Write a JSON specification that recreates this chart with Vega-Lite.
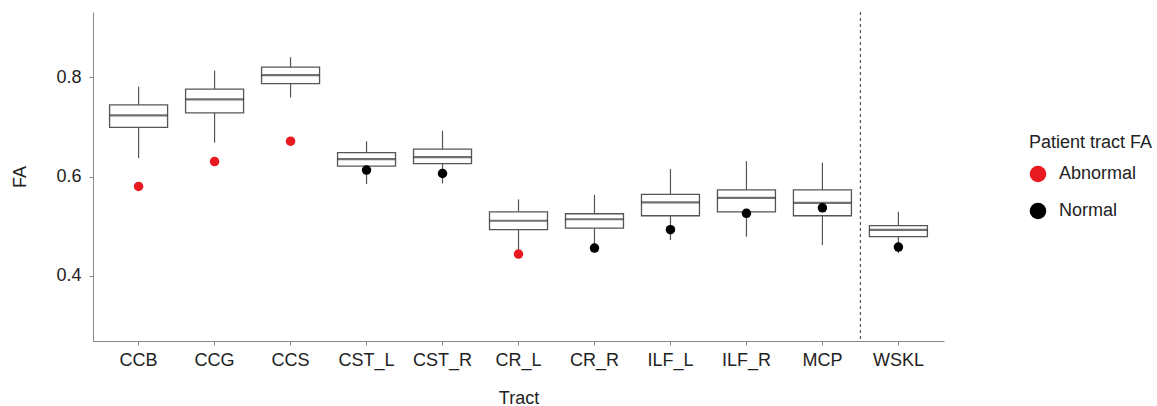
{
  "$schema": "https://vega.github.io/schema/vega-lite/v6.json",
  "width": 851,
  "height": 329,
  "autosize": {"type": "none"},
  "padding": {"left": 93, "top": 12, "right": 213, "bottom": 65},
  "background": "white",
  "config": {
    "view": {"stroke": null},
    "font": "Liberation Sans",
    "axis": {"grid": false, "domainColor": "#888", "tickColor": "#888", "tickSize": 4, "labelColor": "#222", "titleColor": "#222", "labelFontSize": 18, "titleFontSize": 18, "titleFontWeight": "normal", "labelFont": "Liberation Sans", "titleFont": "Liberation Sans"},
    "legend": {"labelFont": "Liberation Sans", "titleFont": "Liberation Sans"}
  },
  "data": {
    "values": [
      {"tract": "CCB", "lower": 0.637, "q1": 0.699, "median": 0.723, "q3": 0.744, "upper": 0.781, "patient": 0.580, "status": "Abnormal"},
      {"tract": "CCG", "lower": 0.668, "q1": 0.728, "median": 0.755, "q3": 0.776, "upper": 0.813, "patient": 0.630, "status": "Abnormal"},
      {"tract": "CCS", "lower": 0.759, "q1": 0.787, "median": 0.804, "q3": 0.820, "upper": 0.840, "patient": 0.671, "status": "Abnormal"},
      {"tract": "CST_L", "lower": 0.585, "q1": 0.621, "median": 0.635, "q3": 0.648, "upper": 0.671, "patient": 0.613, "status": "Normal"},
      {"tract": "CST_R", "lower": 0.586, "q1": 0.626, "median": 0.639, "q3": 0.655, "upper": 0.692, "patient": 0.606, "status": "Normal"},
      {"tract": "CR_L", "lower": 0.452, "q1": 0.493, "median": 0.511, "q3": 0.529, "upper": 0.554, "patient": 0.444, "status": "Abnormal"},
      {"tract": "CR_R", "lower": 0.460, "q1": 0.496, "median": 0.514, "q3": 0.525, "upper": 0.563, "patient": 0.456, "status": "Normal"},
      {"tract": "ILF_L", "lower": 0.472, "q1": 0.521, "median": 0.548, "q3": 0.564, "upper": 0.615, "patient": 0.493, "status": "Normal"},
      {"tract": "ILF_R", "lower": 0.479, "q1": 0.529, "median": 0.557, "q3": 0.573, "upper": 0.631, "patient": 0.526, "status": "Normal"},
      {"tract": "MCP", "lower": 0.462, "q1": 0.521, "median": 0.547, "q3": 0.573, "upper": 0.628, "patient": 0.537, "status": "Normal"},
      {"tract": "WSKL", "lower": 0.446, "q1": 0.479, "median": 0.4925, "q3": 0.501, "upper": 0.529, "patient": 0.458, "status": "Normal"}
    ]
  },
  "encoding": {
    "x": {
      "field": "tract", "type": "nominal", "title": "Tract",
      "sort": ["CCB", "CCG", "CCS", "CST_L", "CST_R", "CR_L", "CR_R", "ILF_L", "ILF_R", "MCP", "WSKL"],
      "scale": {"type": "band", "paddingInner": 0, "paddingOuter": 0.1},
      "axis": {"labelAngle": 0, "labelPadding": 6, "titlePadding": 20}
    }
  },
  "layer": [
    {
      "mark": {"type": "rule", "color": "#555", "strokeWidth": 1.2},
      "encoding": {
        "y": {"field": "lower", "type": "quantitative", "title": "FA",
          "scale": {"domain": [0.269, 0.931], "nice": false, "zero": false},
          "axis": {"values": [0.4, 0.6, 0.8], "format": ".1f", "labelPadding": 8, "titlePadding": 26}},
        "y2": {"field": "upper"}
      }
    },
    {
      "mark": {"type": "bar", "fill": "white", "stroke": "#555", "strokeWidth": 1.3, "size": 58},
      "encoding": {
        "y": {"field": "q1", "type": "quantitative"},
        "y2": {"field": "q3"}
      }
    },
    {
      "mark": {"type": "tick", "color": "#333", "thickness": 2.2, "size": 58},
      "encoding": {
        "y": {"field": "median", "type": "quantitative"}
      }
    },
    {
      "mark": {"type": "circle", "opacity": 1, "size": 90},
      "encoding": {
        "y": {"field": "patient", "type": "quantitative"},
        "color": {
          "field": "status", "type": "nominal",
          "scale": {"domain": ["Abnormal", "Normal"], "range": ["#e8191f", "#000000"]},
          "legend": {
            "title": "Patient tract FA", "orient": "none", "legendX": 936, "legendY": 122,
            "symbolType": "circle", "symbolSize": 275, "symbolStrokeWidth": 0,
            "titleFontSize": 18, "titleFontWeight": "normal", "titleColor": "#222",
            "labelFontSize": 18, "labelColor": "#222", "rowPadding": 19, "titlePadding": 13, "labelOffset": 12
          }
        }
      }
    },
    {
      "data": {"values": [{"tract": "WSKL"}]},
      "mark": {"type": "rule", "color": "#555", "strokeDash": [3, 3], "strokeWidth": 1.2},
      "encoding": {
        "x": {"field": "tract", "type": "nominal", "bandPosition": 0}
      }
    }
  ]
}
